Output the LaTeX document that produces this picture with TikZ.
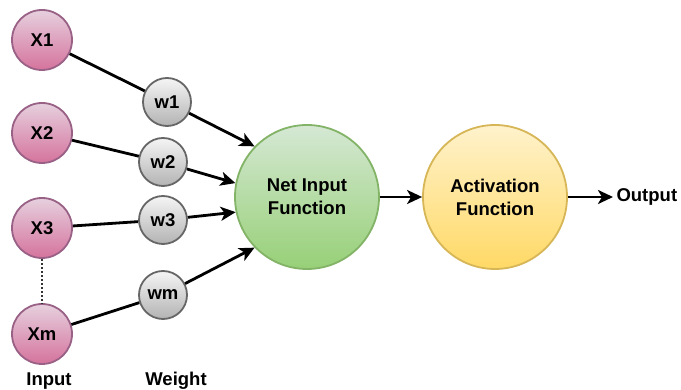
\documentclass[tikz,border=0pt]{standalone}
\usepackage{fontspec}
\setmainfont{Liberation Sans}
\usetikzlibrary{arrows.meta}
\begin{document}
\begin{tikzpicture}[x=1pt,y=-1pt,
  every node/.style={font=\fontsize{18.5}{23}\selectfont\bfseries},
  inp/.style={circle,minimum size=60pt,inner sep=0pt,line width=1.8pt,draw={rgb,255:red,153;green,97;blue,133},top color={rgb,255:red,230;green,208;blue,222},bottom color={rgb,255:red,213;green,115;blue,157}},
  wgt/.style={circle,minimum size=48pt,inner sep=0pt,line width=1.8pt,draw={rgb,255:red,102;green,102;blue,102},top color={rgb,255:red,245;green,245;blue,245},bottom color={rgb,255:red,179;green,179;blue,179}},
  netc/.style={circle,minimum size=144pt,inner sep=0pt,align=center,line width=1.8pt,draw={rgb,255:red,130;green,179;blue,102},top color={rgb,255:red,213;green,232;blue,212},bottom color={rgb,255:red,151;green,208;blue,119}},
  actc/.style={circle,minimum size=144pt,inner sep=0pt,align=center,line width=1.8pt,draw={rgb,255:red,214;green,182;blue,86},top color={rgb,255:red,255;green,242;blue,204},bottom color={rgb,255:red,255;green,217;blue,102}},
  ln/.style={line width=2.8pt,black},
  arr/.style={line width=2.8pt,black,-{Stealth[length=15pt,width=14pt,inset=4pt]}}
]
\useasboundingbox (0,0) rectangle (681,390);
\node[inp] (x1) at (42,40) {X1};
\node[inp] (x2) at (42,133) {X2};
\node[inp] (x3) at (42,228) {X3};
\node[inp] (xm) at (42,334) {Xm};
\node[wgt] (w1) at (167,102) {w1};
\node[wgt] (w2) at (163,162) {w2};
\node[wgt] (w3) at (163,220) {w3};
\node[wgt] (wm) at (163,295) {wm};
\node[netc] (net) at (307,197) {Net Input\\Function};
\node[actc] (act) at (495,197) {Activation\\Function};
\node[anchor=west] (out) at (613,197) {Output};
\node (lin) at (49,381) {Input};
\node (lwt) at (176,381) {Weight};
\draw[ln] (x1) -- (w1);
\draw[ln] (x2) -- (w2);
\draw[ln] (x3) -- (w3);
\draw[ln] (xm) -- (wm);
\draw[line width=2pt,dotted,black!80] (x3) -- (xm);
\draw[arr] (w1) -- (net.136);
\draw[arr] (w2) -- (net.169);
\draw[arr] (w3) -- (net.192);
\draw[arr] (wm) -- (net.224);
\draw[arr] (net) -- (act);
\draw[arr] (act) -- (out);
\end{tikzpicture}
\end{document}
